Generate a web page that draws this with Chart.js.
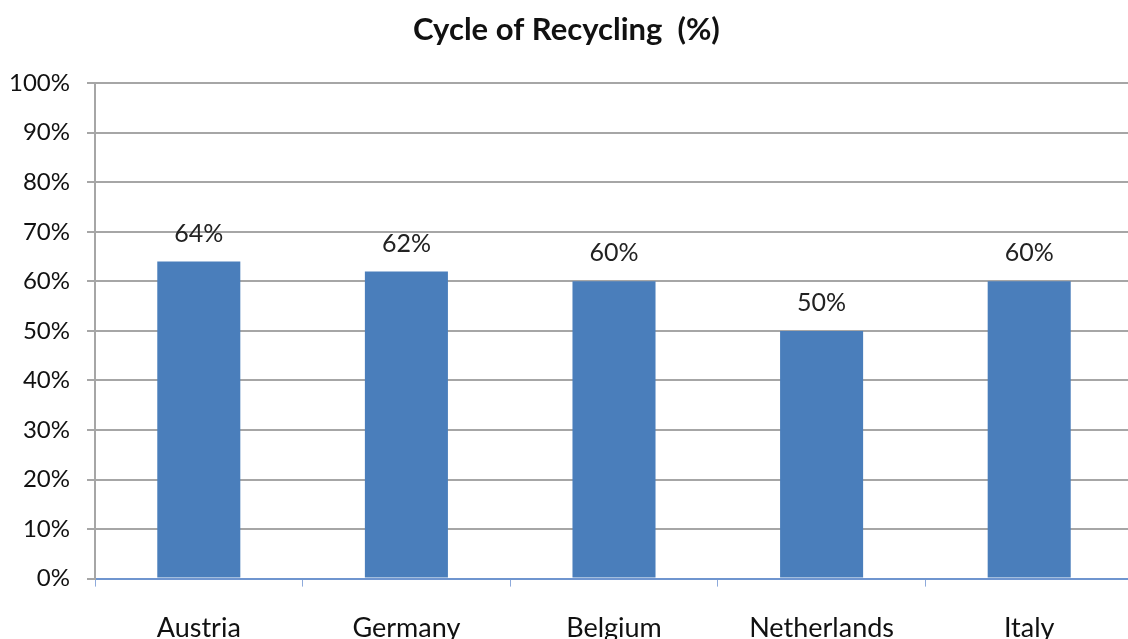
<!DOCTYPE html>
<html>
<head>
<meta charset="utf-8">
<script src="https://cdn.jsdelivr.net/npm/chart.js@4/dist/chart.umd.min.js"></script>
<style>
  html, body { margin: 0; padding: 0; background: #fff; overflow: hidden; }
  #wrap { width: 1140px; height: 669px; }
</style>
</head>
<body>
<div id="wrap"><canvas id="chart" width="1140" height="669"></canvas></div>
<script>
// datos del gráfico
const countries = ['Austria', 'Germany', 'Belgium', 'Netherlands', 'Italy'];
const recycling = [64, 62, 60, 50, 60];
const yTicks = [0, 10, 20, 30, 40, 50, 60, 70, 80, 90, 100];

const BAR = '#4a7ebb';
const GRID = '#a6a6a6';
const FONT = 'Lato, "Open Sans", sans-serif';

// etiquetas encima de cada barra
const valueLabels = {
  id: 'valueLabels',
  afterDatasetsDraw(chart) {
    const ctx = chart.ctx;
    const meta = chart.getDatasetMeta(0);
    ctx.save();
    ctx.font = '25px ' + FONT;
    ctx.fillStyle = '#222';
    ctx.textAlign = 'center';
    ctx.textBaseline = 'middle';
    meta.data.forEach((bar, i) => {
      ctx.fillText(recycling[i] + '%', bar.x, bar.y - 28);
    });
    ctx.restore();
  }
};

new Chart(document.getElementById('chart'), {
  type: 'bar',
  data: {
    labels: countries,
    datasets: [{
      data: recycling,
      backgroundColor: BAR,
      borderWidth: 0,
      barPercentage: 0.4,
      categoryPercentage: 1
    }]
  },
  options: {
    responsive: false,
    animation: false,
    layout: { padding: { top: 0, right: 7, bottom: 0, left: 0 } },
    plugins: {
      legend: { display: false },
      tooltip: { enabled: false },
      title: {
        display: true,
        text: 'Cycle of Recycling  (%)',
        color: '#111',
        font: { family: FONT, size: 31, weight: 'bold' },
        padding: { top: 11, bottom: 35 }
      }
    },
    scales: {
      x: {
        offset: true,
        border: { color: '#6f95cf', width: 2 },
        grid: { display: true, drawOnChartArea: false, color: '#8eaadb', tickLength: 8, offset: true },
        ticks: { color: '#111', font: { family: FONT, size: 27 }, padding: 25 }
      },
      y: {
        min: 0,
        max: 100,
        afterFit: s => { s.width = 95; },
        afterBuildTicks: s => { s.ticks = yTicks.map(v => ({ value: v })); },
        border: { color: GRID, width: 2 },
        grid: { color: GRID, lineWidth: 2, tickLength: 8 },
        ticks: {
          color: '#111',
          font: { family: FONT, size: 24 },
          padding: 17,
          callback: v => v + '%'
        }
      }
    }
  },
  plugins: [valueLabels]
});
</script>
</body>
</html>
